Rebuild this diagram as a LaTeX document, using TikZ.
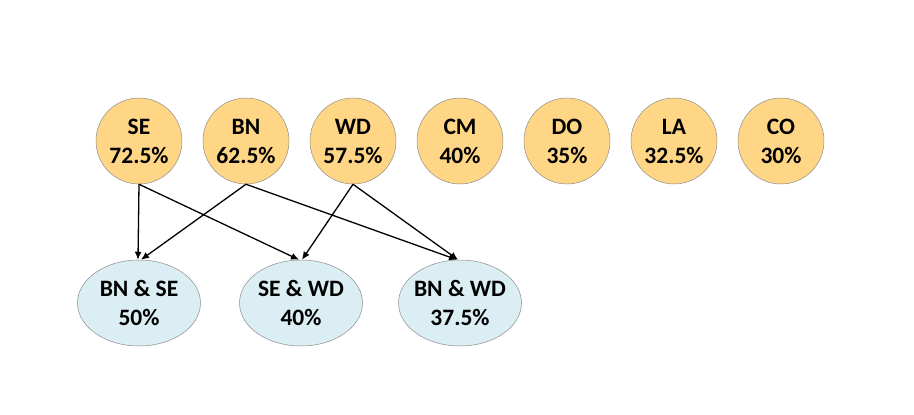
\documentclass[tikz,border=0pt]{standalone}
\usepackage{fontspec}
\setmainfont{Carlito}
\usetikzlibrary{arrows.meta,calc,shapes.geometric}
\definecolor{TopClr}{rgb}{1,0.84,0.52}
\definecolor{PairClr}{rgb}{0.855,0.933,0.953}
\definecolor{RimClr}{rgb}{0.55,0.55,0.55}

\begin{document}
\begin{tikzpicture}[x=1pt,y=-1pt,
  single/.style={circle,draw=RimClr,line width=0.5pt,fill=TopClr,minimum size=86pt,
    inner sep=0pt,align=center,font=\fontsize{23.5}{29}\selectfont\bfseries},
  pair/.style={ellipse,draw=RimClr,line width=0.5pt,fill=PairClr,minimum width=123pt,
    minimum height=86pt,inner sep=0pt,inner xsep=-14pt,align=center,
    font=\fontsize{23.5}{29}\selectfont\bfseries},
  link/.style={-{Latex[length=8pt,width=7pt]},line width=1.3pt,black}]
\useasboundingbox (0,0) rectangle (914,415);

\node[single] (SE) at (139,141) {SE\\72.5\%};
\node[single] (BN) at (246,141) {BN\\62.5\%};
\node[single] (WD) at (353,141) {WD\\57.5\%};
\node[single] (CM) at (460,141) {CM\\40\%};
\node[single] (DO) at (567,141) {DO\\35\%};
\node[single] (LA) at (674,141) {LA\\32.5\%};
\node[single] (CO) at (781,141) {CO\\30\%};

\node[pair] (BNSE) at (139,303) {BN \& SE\\50\%};
\node[pair] (SEWD) at (301,303) {SE \& WD\\40\%};
\node[pair] (BNWD) at (460,303) {BN \& WD\\37.5\%};

\draw[link] (SE.south) -- ([xshift=-1pt]BNSE.north);
\draw[link] (BN.south) -- ([xshift=2pt]BNSE.north);
\draw[link] (SE.south) -- ([xshift=-2pt]SEWD.north);
\draw[link] (WD.south) -- ([xshift=1pt]SEWD.north);
\draw[link] (BN.south) -- ([xshift=-3pt]BNWD.north);
\draw[link] (WD.south) -- ([xshift=-2pt]BNWD.north);

\end{tikzpicture}
\end{document}
